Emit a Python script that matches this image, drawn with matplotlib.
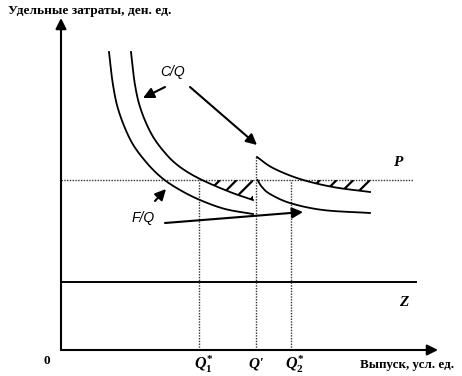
import numpy as np
import matplotlib
matplotlib.use("Agg")
import matplotlib.pyplot as plt

plt.rcParams["mathtext.fontset"] = "custom"
plt.rcParams["mathtext.rm"] = "Liberation Serif:bold"
plt.rcParams["mathtext.it"] = "Liberation Serif:italic:bold"
plt.rcParams["hatch.linewidth"] = 1.6

# curve points (x: output, y: unit cost)
cq_left_x = [7.0, 7.4, 8.0, 9.1, 10.5, 11.9, 13.9, 16.9, 19.2]
cq_left_y = [29.8, 26.5, 24.0, 21.5, 19.6, 18.3, 17.1, 15.8, 15.0]
fq_left_x = [4.8, 5.2, 5.8, 7.0, 8.5, 10.1, 11.9, 13.9, 16.4, 19.2]
fq_left_y = [29.8, 26.5, 23.8, 20.9, 18.8, 17.2, 16.0, 15.0, 14.1, 13.6]
cq_right_x = [19.6, 21.2, 23.9, 27.2, 30.9]
cq_right_y = [19.3, 18.2, 17.1, 16.3, 15.8]
fq_right_x = [19.65, 20.1, 20.9, 22.9, 26.2, 30.9]
fq_right_y = [17.0, 16.3, 15.6, 14.7, 14.0, 13.7]

P = 17.0
Z = 6.8
Q1 = 13.8
Q_prime = 19.5
Q2 = 23.0
x_end = 37.7
y_end = 33.2


def smooth(xs, ys, n=20):
    # Catmull-Rom pass through the read points, only for drawing
    p = np.column_stack([xs, ys]).astype(float)
    p = np.vstack([2 * p[0] - p[1], p, 2 * p[-1] - p[-2]])
    out = []
    t = np.linspace(0, 1, n, endpoint=False)[:, None]
    for i in range(1, len(p) - 2):
        p0, p1, p2, p3 = p[i - 1], p[i], p[i + 1], p[i + 2]
        out.append(0.5 * (2 * p1 + (-p0 + p2) * t
                          + (2 * p0 - 5 * p1 + 4 * p2 - p3) * t ** 2
                          + (-p0 + 3 * p1 - 3 * p2 + p3) * t ** 3))
    out.append(p[-2][None, :])
    out = np.vstack(out)
    return out[:, 0], out[:, 1]


fig = plt.figure(figsize=(4.62, 3.76), dpi=100)
ax = fig.add_axes([0, 0, 1, 1])
ax.set_xlim(-6.1, 40.1)
ax.set_ylim(-2.6, 35.0)
ax.axis("off")

arrow_kw = dict(arrowstyle="-|>", color="black", lw=1.5, mutation_scale=16,
                shrinkA=0, shrinkB=0)

# axes with arrows
ax.annotate("", xy=(0, y_end), xytext=(0, 0), arrowprops=arrow_kw)
ax.annotate("", xy=(x_end, 0), xytext=(0, 0), arrowprops=arrow_kw)

# levels P and Z
dots = (0, (1, 1))
ax.plot([0, 35.2], [P, P], color="0.2", lw=1.0, ls=dots)
ax.plot([0, 35.5], [Z, Z], color="black", lw=1.4)

# verticals
ax.plot([Q1, Q1], [0, P], color="0.2", lw=1.0, ls=dots)
ax.plot([Q2, Q2], [0, P], color="0.2", lw=1.0, ls=dots)
ax.plot([Q_prime, Q_prime], [0, cq_right_y[0]], color="0.2", lw=1.0, ls=dots)

# cost curves
curves = {}
for name, xs, ys in [("cl", cq_left_x, cq_left_y), ("fl", fq_left_x, fq_left_y),
                     ("cr", cq_right_x, cq_right_y), ("fr", fq_right_x, fq_right_y)]:
    sx, sy = smooth(xs, ys)
    curves[name] = (sx, sy)
    ax.plot(sx, sy, color="black", lw=1.3)

# hatched zones between P and C/Q
sx, sy = curves["cl"]
xl = np.linspace(Q1, cq_left_x[-1], 80)
ax.fill_between(xl, np.minimum(np.interp(xl, sx, sy), P), P,
                facecolor="none", edgecolor="black", hatch="//", lw=0)
sx, sy = curves["cr"]
xr = np.linspace(Q2, cq_right_x[-1], 80)
ax.fill_between(xr, np.minimum(np.interp(xr, sx, sy), P), P,
                facecolor="none", edgecolor="black", hatch="//", lw=0)

# pointer arrows
ax.annotate("", xy=(8.2, 25.2), xytext=(10.4, 26.3), arrowprops=arrow_kw)
ax.annotate("", xy=(19.6, 20.5), xytext=(12.9, 26.3), arrowprops=arrow_kw)
ax.annotate("", xy=(10.5, 16.1), xytext=(9.4, 14.9), arrowprops=arrow_kw)
ax.annotate("", xy=(24.2, 13.8), xytext=(10.4, 12.7), arrowprops=arrow_kw)

serif = "Liberation Serif"
sans = "Liberation Sans"
ax.text(-5.3, 33.9, "Удельные затраты, ден. ед.", family=serif, weight="bold",
        fontsize=9.6, ha="left", va="center")
ax.text(29.9, -1.5, "Выпуск, усл. ед.", family=serif, weight="bold",
        fontsize=9.4, ha="left", va="center")
ax.text(-1.4, -1.1, "0", family=serif, weight="bold", fontsize=9.5,
        ha="center", va="center")
ax.text(Q1 + 0.5, -1.4, r"$Q^{*}_{\mathrm{1}}$", fontsize=11.5, ha="center", va="center")
ax.text(Q_prime, -1.4, "Q'", family=serif, weight="bold", style="italic",
        fontsize=11, ha="center", va="center")
ax.text(Q2 + 0.4, -1.4, r"$Q^{*}_{\mathrm{2}}$", fontsize=11.5, ha="center", va="center")
ax.text(33.7, 18.7, "P", family=serif, weight="bold", style="italic",
        fontsize=11, ha="center", va="center")
ax.text(34.3, 4.8, "Z", family=serif, weight="bold", style="italic",
        fontsize=11, ha="center", va="center")
ax.text(11.2, 27.8, "C/Q", family=sans, style="italic", fontsize=10,
        ha="center", va="center")
ax.text(8.2, 13.2, "F/Q", family=sans, style="italic", fontsize=10,
        ha="center", va="center")

fig.savefig("out.png", dpi=100)
